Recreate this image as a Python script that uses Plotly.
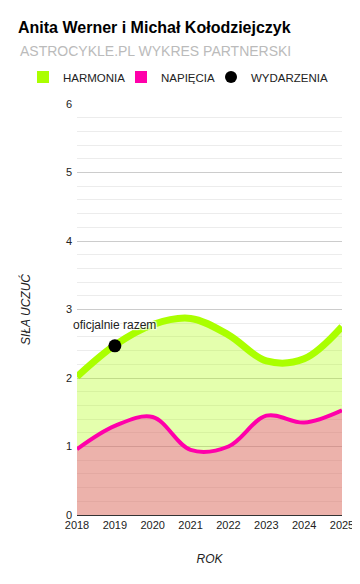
import plotly.graph_objects as go

years = [2018, 2019, 2020, 2021, 2022, 2023, 2024, 2025]
harmonia = [2.02, 2.48, 2.78, 2.87, 2.63, 2.25, 2.28, 2.75]
napiecia = [0.96, 1.30, 1.43, 0.95, 1.00, 1.45, 1.35, 1.53]
event_years = [2019]
event_values = [2.47]
event_labels = ["oficjalnie razem"]

title = "Anita Werner i Michał Kołodziejczyk"
subtitle = "ASTROCYKLE.PL WYKRES PARTNERSKI"
series_names = ["HARMONIA", "NAPIĘCIA", "WYDARZENIA"]

GREEN = "rgb(170,255,0)"
MAGENTA = "rgb(255,0,170)"
FONT = "Arial, 'Liberation Sans', sans-serif"

# The page body has an 8px margin, so the figure is 8px smaller and
# all positions are expressed in figure coordinates (page coords - 8).
W, H = 352, 576
L, R, T, B = 69, 18, 96, 69
PW, PH = W - L - R, H - T - B

fig = go.Figure()

fig.add_trace(go.Scatter(
    x=years, y=harmonia, mode="lines", name=series_names[0],
    line=dict(color=GREEN, width=7, shape="spline", smoothing=1.0),
    fill="tozeroy", fillcolor="rgba(170,255,0,0.32)", showlegend=False,
    hoverinfo="x+y"))
fig.add_trace(go.Scatter(
    x=years, y=napiecia, mode="lines", name=series_names[1],
    line=dict(color=MAGENTA, width=4, shape="spline", smoothing=1.0),
    fill="tozeroy", fillcolor="rgba(255,0,170,0.3)", showlegend=False,
    hoverinfo="x+y"))
fig.add_trace(go.Scatter(
    x=event_years, y=event_values, mode="markers", name=series_names[2],
    marker=dict(color="black", size=13), showlegend=False, cliponaxis=False))

# legend-only entries, each in its own legend for exact placement
legend_symbols = ["square", "square", "circle"]
legend_colors = [GREEN, MAGENTA, "black"]
legend_ids = ["legend", "legend2", "legend3"]
legend_x = [15, 113, 203]  # figure px of each legend's left edge
for name, sym, col, lid in zip(series_names, legend_symbols, legend_colors, legend_ids):
    fig.add_trace(go.Scatter(x=[None], y=[None], mode="markers", name=name,
                             legend=lid, showlegend=True,
                             marker=dict(symbol=sym, size=12, color=col)))

for ex, ey, lab in zip(event_years, event_values, event_labels):
    fig.add_annotation(
        x=ex, y=ey, text=lab, showarrow=False, yshift=21,
        font=dict(family=FONT, size=12, color="#222",
                  shadow="1px 1px 1px white, -1px -1px 1px white, 1px -1px 1px white, -1px 1px 1px white"))

fig.add_annotation(
    text=subtitle, xref="paper", yref="paper", showarrow=False,
    x=(10 - L) / PW, xanchor="left", y=1 + (T - 43) / PH, yanchor="middle",
    font=dict(family=FONT, size=14, color="#bbbbbb"))

legend_common = dict(
    orientation="h", xref="paper", yref="paper", xanchor="left",
    y=1 + (T - 69) / PH, yanchor="middle", bgcolor="rgba(0,0,0,0)",
    font=dict(family=FONT, size=11.5, color="#222"), itemwidth=30,
)

fig.update_layout(
    width=W, height=H,
    paper_bgcolor="white", plot_bgcolor="white",
    margin=dict(l=L, r=R, t=T, b=B, autoexpand=False),
    font=dict(family=FONT, size=11, color="#222"),
    title=dict(
        text="<b>" + title + "</b>",
        x=10 / W, xanchor="left", xref="container",
        y=1 - 19 / H, yanchor="middle", yref="container",
        font=dict(family=FONT, size=16, color="#000"),
    ),
    legend=dict(x=(legend_x[0] - L) / PW, **legend_common),
    legend2=dict(x=(legend_x[1] - L) / PW, **legend_common),
    legend3=dict(x=(legend_x[2] - L) / PW, **legend_common),
    xaxis=dict(
        range=[2018, 2025], dtick=1, tick0=2018, showgrid=False,
        showline=True, linecolor="#333", linewidth=1, zeroline=False,
        ticks="", tickfont=dict(size=11, color="#222"), automargin=False,
        title=dict(text="<i>ROK</i>", font=dict(size=12, color="#222"), standoff=24),
        fixedrange=True,
    ),
    yaxis=dict(
        range=[0, 6], dtick=1, tick0=0, showgrid=True, gridcolor="#cccccc",
        zeroline=False, showline=False, ticks="", ticklabelstandoff=4,
        tickfont=dict(size=11, color="#222"), automargin=False,
        minor=dict(dtick=0.2, showgrid=True, gridcolor="#ececec"),
        title=dict(text="<i>SIŁA UCZUĆ</i>", font=dict(size=12, color="#222"), standoff=32),
        fixedrange=True,
    ),
)

fig.write_html("out.html")
